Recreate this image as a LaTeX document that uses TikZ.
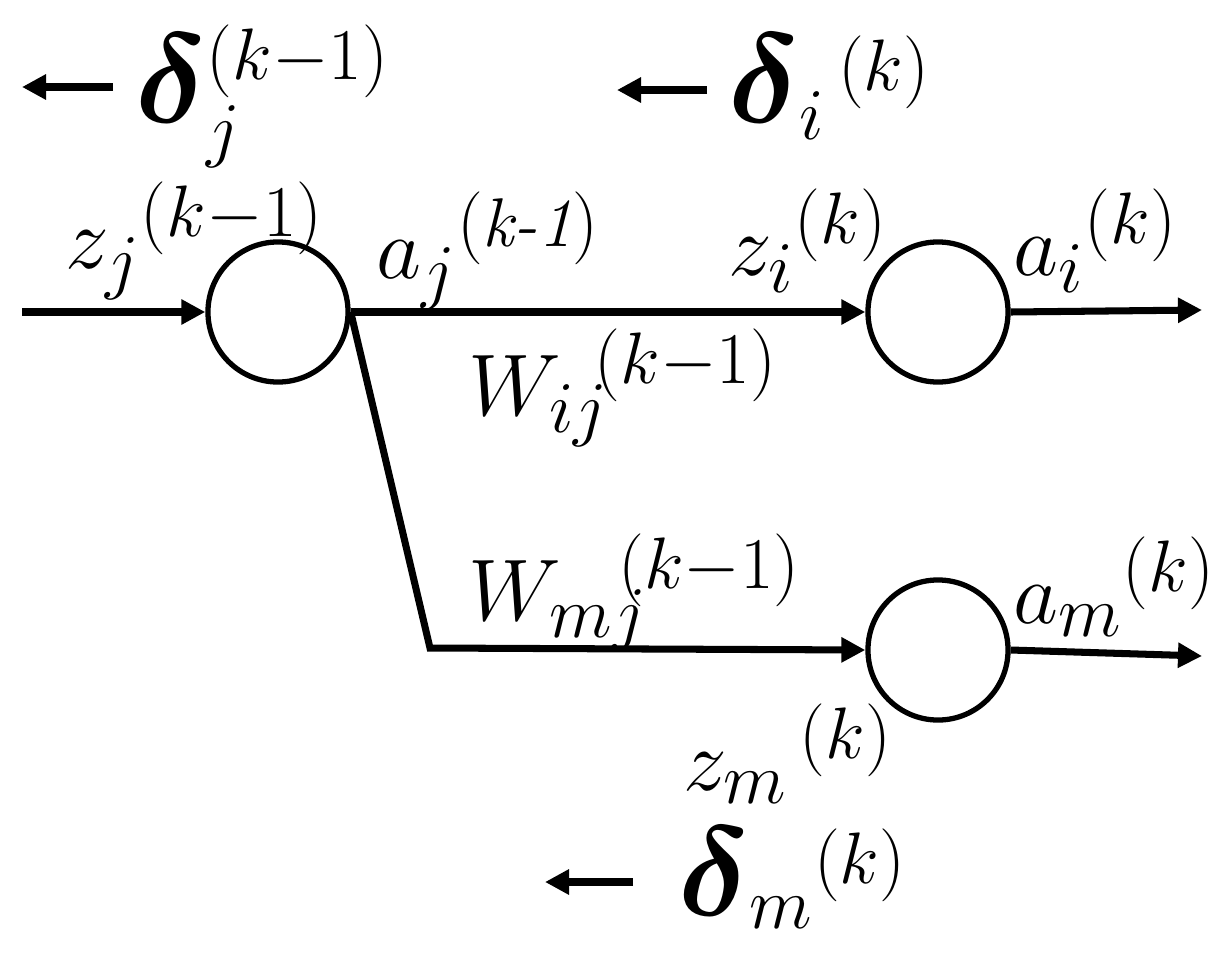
\documentclass[tikz,border=0pt]{standalone}
\usepackage{amsmath,amssymb,bm}
\usetikzlibrary{arrows.meta}
\newcommand{\bigdelta}{\smash{\scalebox{1.45}{$\bm{\delta}$}}}

\begin{document}
\begin{tikzpicture}[x=0.01cm,y=-0.01cm,font=\fontsize{28}{34}\selectfont,
  neuron/.style={circle,draw,line width=1.5pt,minimum size=1.40cm,inner sep=0pt},
  wire/.style={line width=2pt},
  sig/.style={wire,-{Triangle[length=0.24cm,width=0.24cm]}},
  lab/.style={anchor=base west,inner sep=0pt}]
\path[use as bounding box] (0,0) rectangle (1230,954);
% neurons
\node[neuron] (nj) at (278,312) {};
\node[neuron] (ni) at (938,312) {};
\node[neuron] (nm) at (938,650) {};
\coordinate (in) at (22,312);
\coordinate (bend) at (430,648);
\coordinate (outi) at (1202,310);
\coordinate (outm) at (1202,656);
% forward signals
\draw[sig] (in) -- (nj.west);
\draw[sig] (nj.east) -- (ni.west);
\draw[sig,line join=miter] (nj.east) -- (bend) -- (nm.west);
\draw[sig] (ni.east) -- (outi);
\draw[sig] (nm.east) -- (outm);
% labels
\node[lab] (zj) at (65,268) {$z_j{}^{(k{-}1)}$};
\node[lab] (aj) at (376,278) {$a_j{}^{(\textit{k-1})}$};
\node[lab] (zi) at (728,275) {$z_i{}^{(k)}$};
\node[lab] (ai) at (1013,275) {$a_i{}^{(k)}$};
\node[lab] (wij) at (468,415) {$W_{ij}\!{}^{(k{-}1)}$};
\node[lab] (wmj) at (468,620) {$W_{mj}\!\!{}^{(k{-}1)}$};
\node[lab] (am) at (1013,623) {$a_m{}^{(k)}$};
\node[lab] (zm) at (683,790) {$z_m{}^{\,(k)}$};
% back-propagated errors
\node[lab] (dj) at (135,122) {$\bigdelta_j^{\smash{\raisebox{3pt}{$\scriptstyle(k{-}1)$}}}$};
\node[lab] (di) at (728,122) {$\bigdelta_i{}^{\,(k)}$};
\node[lab] (dm) at (678,915) {$\bigdelta_m{}^{(k)}$};
\coordinate (dj0) at (113,87);  \coordinate (dj1) at (22,87);
\coordinate (di0) at (707,90);  \coordinate (di1) at (617,90);
\coordinate (dm0) at (633,882); \coordinate (dm1) at (545,882);
\draw[sig] (dj0) -- (dj1);
\draw[sig] (di0) -- (di1);
\draw[sig] (dm0) -- (dm1);
\end{tikzpicture}
\end{document}
